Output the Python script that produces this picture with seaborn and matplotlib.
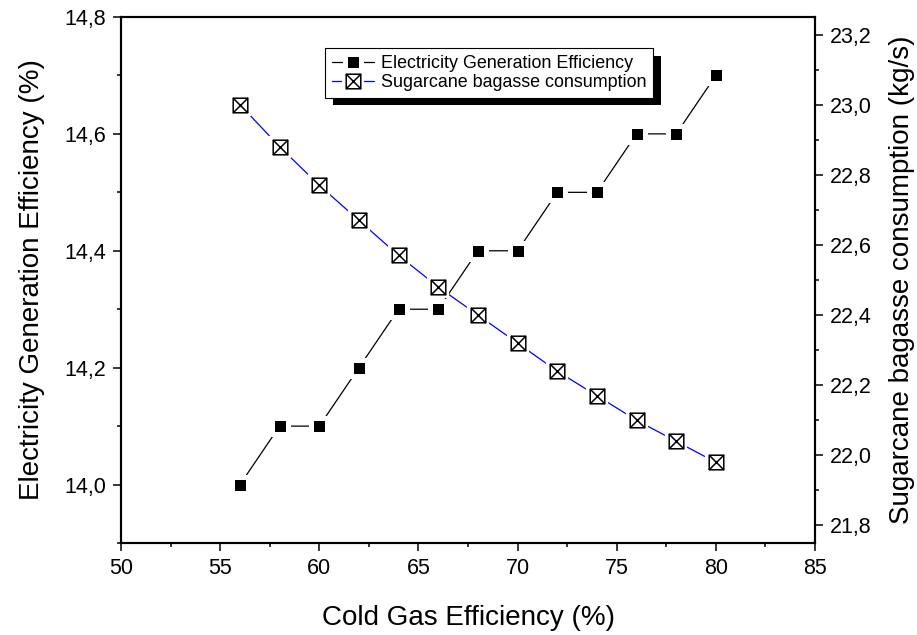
import matplotlib
matplotlib.use("Agg")
import matplotlib.pyplot as plt
import matplotlib.patheffects as pe
import seaborn as sns
from matplotlib.lines import Line2D
from matplotlib.path import Path
from matplotlib.legend_handler import HandlerTuple
from matplotlib.ticker import MultipleLocator, FuncFormatter

# ============================================================
# Data
# ============================================================

cold_gas = [56, 58, 60, 62, 64, 66, 68, 70, 72, 74, 76, 78, 80]

electricity = [14.0, 14.1, 14.1, 14.2, 14.3, 14.3, 14.4, 14.4, 14.5, 14.5, 14.6, 14.6, 14.7]

bagasse = [23.00, 22.88, 22.77, 22.67, 22.57, 22.48, 22.40, 22.32, 22.24, 22.17, 22.10, 22.04, 21.98]

label_elec = "Electricity Generation Efficiency"
label_bag = "Sugarcane bagasse consumption"

# ============================================================
# Style
# ============================================================

sns.set_style("ticks", {
    "axes.edgecolor": "black",
    "xtick.color": "black",
    "ytick.color": "black",
    "text.color": "black",
    "axes.labelcolor": "black",
})
plt.rcParams["font.family"] = ["Liberation Sans", "DejaVu Sans"]

# square with a cross inside
box_x = Path(
    [(-1, -1), (1, -1), (1, 1), (-1, 1), (-1, -1), (-1, -1), (1, 1), (-1, 1), (1, -1)],
    [Path.MOVETO, Path.LINETO, Path.LINETO, Path.LINETO, Path.CLOSEPOLY,
     Path.MOVETO, Path.LINETO, Path.MOVETO, Path.LINETO]
)

comma = FuncFormatter(lambda v, p: f"{v:.1f}".replace(".", ","))

fig = plt.figure(figsize=(9.17, 6.35), dpi=100)
ax = fig.add_axes([121 / 917, 92 / 635, 694 / 917, 526 / 635])
ax2 = ax.twinx()

# ============================================================
# Series
# ============================================================

sns.lineplot(
    x=cold_gas, y=electricity, ax=ax,
    color="black", lw=0.9,
    marker="s", markersize=11.4, markerfacecolor="black",
    markeredgecolor="white", markeredgewidth=3.6,
)

sns.lineplot(
    x=cold_gas, y=bagasse, ax=ax2,
    color="blue", lw=0.9,
    marker="s", markersize=13.5, markerfacecolor="white",
    markeredgecolor="white", markeredgewidth=3,
)
sns.scatterplot(
    x=cold_gas, y=bagasse, ax=ax2,
    marker=box_x, s=10.5 ** 2, facecolor="white",
    edgecolor="black", linewidth=1.1, zorder=3,
)

# ============================================================
# Axes
# ============================================================

ax.set_xlim(50, 85)
ax.set_ylim(13.9, 14.8)
ax2.set_ylim(21.75, 23.25)

ax.xaxis.set_major_locator(MultipleLocator(5))
ax.xaxis.set_minor_locator(MultipleLocator(2.5))
ax.yaxis.set_major_locator(MultipleLocator(0.2))
ax.yaxis.set_minor_locator(MultipleLocator(0.1))
ax2.yaxis.set_major_locator(MultipleLocator(0.2))
ax2.yaxis.set_minor_locator(MultipleLocator(0.1))
ax.yaxis.set_major_formatter(comma)
ax2.yaxis.set_major_formatter(comma)

for a in (ax, ax2):
    a.tick_params(which="major", direction="out", length=5.8, width=1.1, labelsize=15.5, pad=5)
    a.tick_params(which="minor", direction="out", length=3.2, width=1.1)
    for s in a.spines.values():
        s.set_visible(True)
        s.set_linewidth(1.5)
        s.set_color("black")

ax.tick_params(axis="y", which="both", right=False)
ax.tick_params(axis="x", which="both", top=False)
ax2.tick_params(axis="y", which="both", left=False, right=True)

ax.set_xlabel("Cold Gas Efficiency (%)", fontsize=20, labelpad=19)
ax.set_ylabel("Electricity Generation Efficiency (%)", fontsize=20, labelpad=14)
ax2.set_ylabel(label_bag + " (kg/s)", fontsize=20, labelpad=12)

# ============================================================
# Legend
# ============================================================

h_elec = Line2D([], [], color="black", lw=0.9, marker="s", markersize=11.4,
                markerfacecolor="black", markeredgecolor="white", markeredgewidth=3.6)
h_bag_line = Line2D([], [], color="blue", lw=0.9, marker="s", markersize=13.5,
                    markerfacecolor="white", markeredgecolor="white", markeredgewidth=3)
h_bag_mark = Line2D([], [], ls="none", marker=box_x, markersize=10.5,
                    markerfacecolor="white", markeredgecolor="black", markeredgewidth=1.1)

leg = ax2.legend(
    [h_elec, (h_bag_line, h_bag_mark)],
    [label_elec, label_bag],
    handler_map={tuple: HandlerTuple(ndivide=1, pad=0)},
    loc="upper left",
    bbox_to_anchor=(204 / 694, (543 - 48) / 526),
    borderaxespad=0,
    fontsize=12.9,
    handlelength=2.35,
    handletextpad=0.37,
    labelspacing=0.12,
    borderpad=0.38,
    fancybox=False,
    framealpha=1,
    edgecolor="black",
)
leg.get_frame().set_linewidth(0.8)
leg.get_frame().set_path_effects([
    pe.SimplePatchShadow(offset=(5.8, -5.4), shadow_rgbFace="black", alpha=1.0),
    pe.Normal(),
])

fig.savefig("out.png", dpi=100)
